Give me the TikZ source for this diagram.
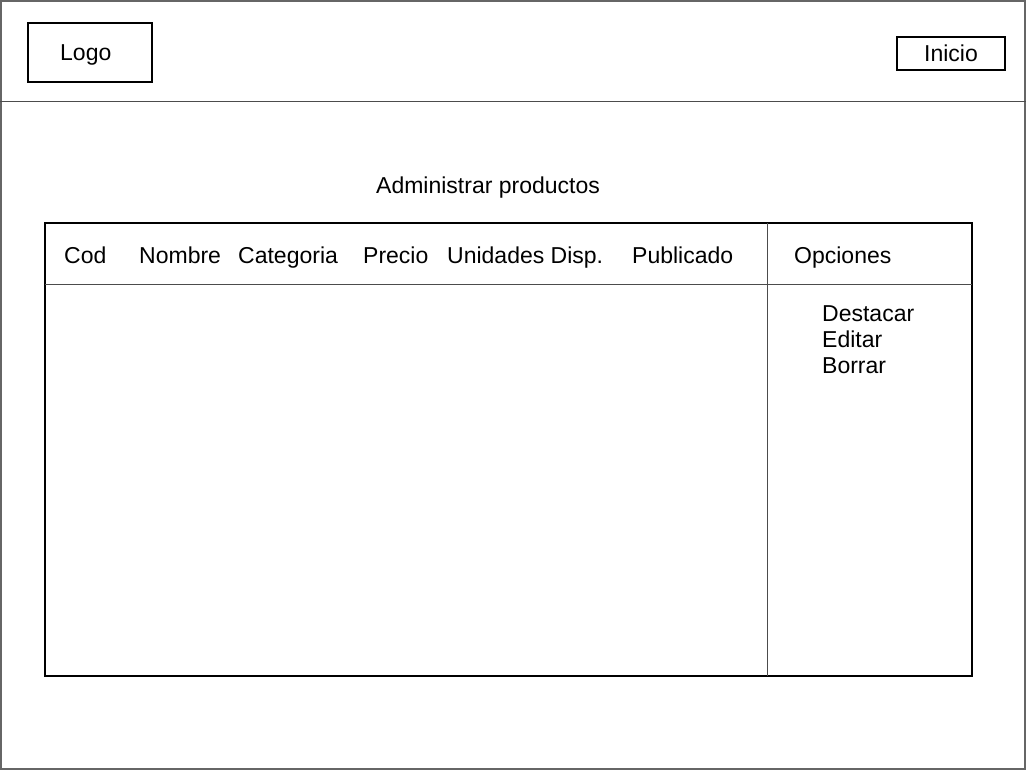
\documentclass[tikz,border=0pt]{standalone}
\usepackage{fontspec}
\setmainfont{Liberation Sans}
\tikzset{
    caja/.style={draw, line width=1.1pt, inner sep=0pt},
    linea/.style={draw=black!70, line width=1pt},
    texto/.style={anchor=base west, inner sep=0pt, font=\fontsize{23}{26}\selectfont}
}
\begin{document}
\begin{tikzpicture}[x=1pt, y=-1pt]
        \useasboundingbox (0,0) rectangle (1026,770);
        \draw[draw=black!60, line width=2pt] (1,1) rectangle (1025,769);
        \draw[linea] (0,102) -- (1026,102);
        \node[caja, minimum width=124pt, minimum height=59pt] (logo) at (90,52.5) {};
        \node[texto] (logotxt) at (60,61) {Logo};
        \node[caja, minimum width=108pt, minimum height=33pt, font=\fontsize{23}{26}\selectfont] (inicio) at (951,53.5) {Inicio};
        \node[texto] (titulo) at (376,194) {Administrar productos};
        \node[caja, minimum width=927pt, minimum height=453pt] (tabla) at (508.5,449.5) {};
        \draw[linea] (45,285) -- (972,285);
        \draw[linea] (767,223) -- (767,676);
        \node[texto] (cod) at (64,264) {Cod};
        \node[texto] (nombre) at (139,264) {Nombre};
        \node[texto] (categoria) at (238,264) {Categoria};
        \node[texto] (precio) at (363,264) {Precio};
        \node[texto] (unidades) at (447,264) {Unidades Disp.};
        \node[texto] (publicado) at (632,264) {Publicado};
        \node[texto] (opciones) at (794,264) {Opciones};
        \node[texto] (destacar) at (822,321) {Destacar};
        \node[texto] (editar) at (822,347) {Editar};
        \node[texto] (borrar) at (822,373) {Borrar};
    \end{tikzpicture}
\end{document}
